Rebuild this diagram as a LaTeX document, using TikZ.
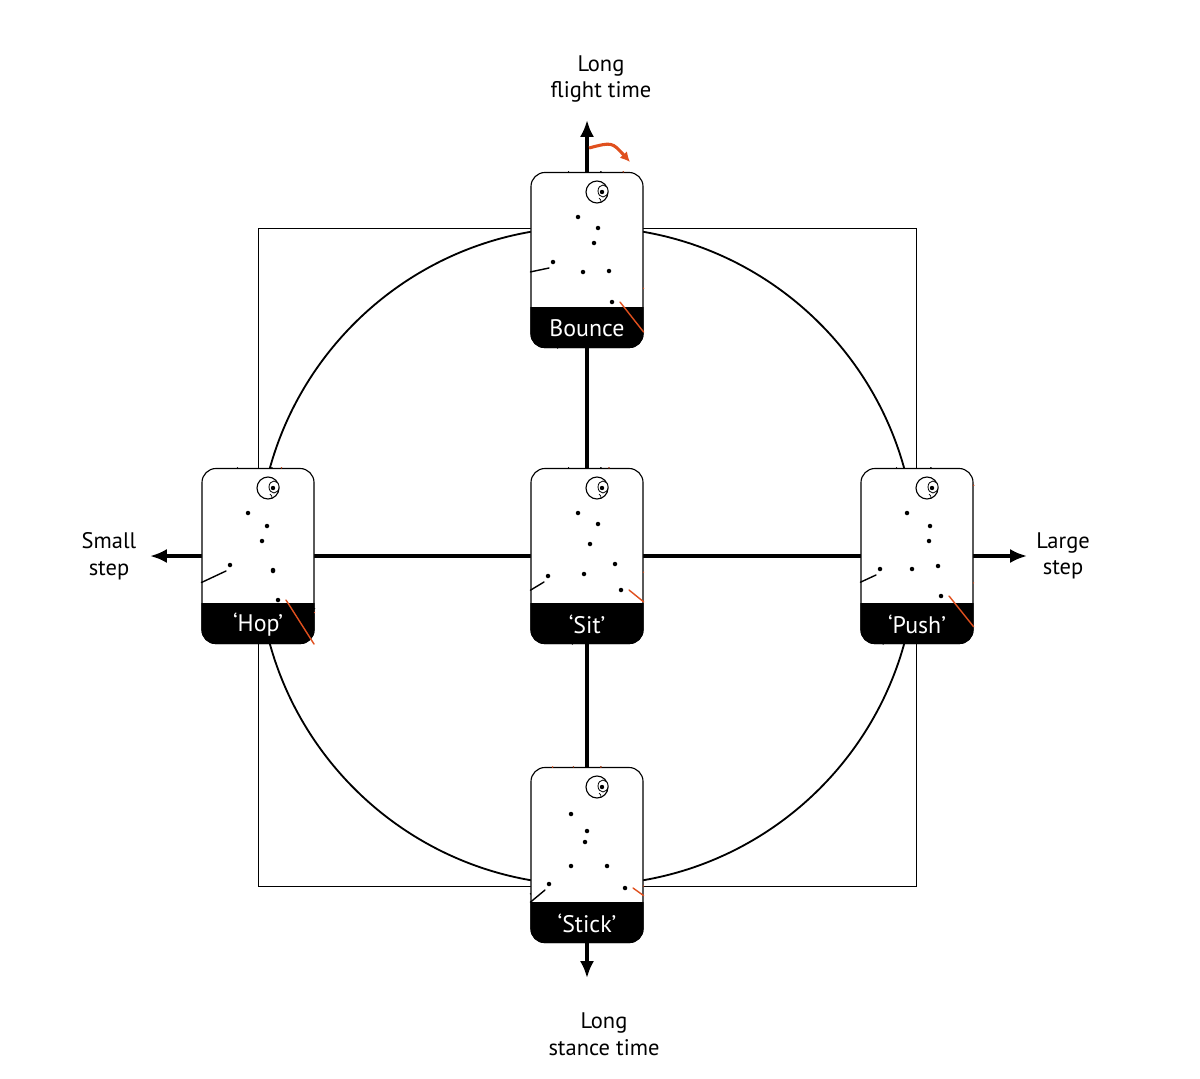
\documentclass[tikz,border=0pt]{standalone}
\usepackage{fontspec}
\setmainfont{PT Sans}
\usetikzlibrary{arrows.meta}
\definecolor{runorange}{HTML}{E0501E}
\tikzset{
  card/.style={rectangle, rounded corners=10pt, draw=black, line width=0.8pt, fill=white, minimum width=2.8cm, minimum height=4.375cm, inner sep=0pt},
  axis/.style={line width=2.6pt, -{Latex[length=12pt,width=10pt]}},
  axlabel/.style={align=center, font=\fontsize{16}{19}\selectfont},
  limb/.style={line width=1pt, line cap=round, line join=round}
}
% \runner{card}{elbow}{hand}{hip}{back knee}{back foot}{front knee}{front foot}{arm colour}
\newcommand{\runner}[9]{%
  \draw[limb, black] ([shift={#4}]#1) -- ([shift={#5}]#1) -- ([shift={#6}]#1) -- ++(-4,6);
  \draw[limb, runorange] ([shift={#4}]#1) -- ([shift={#7}]#1) -- ([shift={#8}]#1) -- ++(8,0);
  \draw[limb, black] ([shift={(9,-57)}]#1) -- ([shift={#4}]#1);
  \draw[limb, #9] ([shift={(9,-57)}]#1) -- ([shift={#2}]#1) -- ([shift={#3}]#1);
  \foreach \p in {#2,#3,#4,#5,#6,#7,#8}
    \fill ([shift={\p}]#1) circle (1.6pt);
  \draw[line width=0.8pt, fill=white] ([shift={(10,-68)}]#1) circle (11);
  \draw[line width=0.6pt, fill=white] ([shift={(16,-69)}]#1) ellipse (5 and 6);
  \fill ([shift={(15,-68)}]#1) circle (2.2);
  \draw[line width=0.5pt] ([shift={(12,-62)}]#1) arc (-60:10:4);
}
% \band{card}{text}
\newcommand{\band}[2]{%
  \fill[black] ([yshift=1.025cm]#1.south west) [rounded corners=10pt] -- (#1.south west)
    -- (#1.south east) [sharp corners] -- ([yshift=1.025cm]#1.south east) -- cycle;
  \node[text=white, font=\fontsize{17}{20}\selectfont] at ([yshift=0.5cm]#1.south) {#2};
}

\begin{document}
\begin{tikzpicture}[x=0.025cm, y=-0.025cm]
  \useasboundingbox (0,0) rectangle (1200,1078);
  % frame
  \draw[line width=0.6pt] (258,228) rectangle (916,886);
  \draw[line width=1.3pt] (587,556) circle (329);
  % axes
  \coordinate (ctr) at (587,556);
  \coordinate (up) at (587,120);
  \coordinate (down) at (587,978);
  \coordinate (left) at (150,556);
  \coordinate (right) at (1027,556);
  \draw[axis] (ctr) -- (up);
  \draw[axis] (ctr) -- (down);
  \draw[axis] (ctr) -- (left);
  \draw[axis] (ctr) -- (right);
  \node[axlabel] (fly) at (601,79) {Long\\flight time};
  \node[axlabel] (stance) at (604,1034) {Long\\stance time};
  \node[axlabel] (small) at (109,556) {Small\\step};
  \node[axlabel] (large) at (1063,556) {Large\\step};
  \draw[runorange, line width=2.2pt, -{Latex[length=7pt,width=7pt]}] (589,148) .. controls (612,142) .. (630,162);
  % cards
  \node[card] (bounce) at (587,260) {};
  \node[card] (sit) at (587,556) {};
  \node[card] (hop) at (258,556) {};
  \node[card] (push) at (917,556) {};
  \node[card] (stick) at (587,855) {};
  \band{bounce}{Bounce}
  \band{sit}{‘Sit’}
  \band{hop}{‘Hop’}
  \band{push}{‘Push’}
  \band{stick}{‘Stick’}
  \runner{bounce}{(-9,-43)}{(11,-32)}{(7,-17)}{(-4,12)}{(-34,2)}{(22,11)}{(25,42)}{black}
  \runner{sit}{(-9,-43)}{(11,-32)}{(3,-12)}{(-3,18)}{(-39,20)}{(28,8)}{(34,34)}{black}
  \runner{hop}{(-10,-43)}{(9,-30)}{(4,-15)}{(15,14)}{(-28,9)}{(15,15)}{(20,44)}{black}
  \runner{push}{(-10,-43)}{(13,-30)}{(12,-15)}{(-5,13)}{(-37,13)}{(21,10)}{(24,40)}{black}
  \runner{stick}{(-16,-41)}{(0,-24)}{(-2,-13)}{(-16,11)}{(-38,29)}{(20,11)}{(38,33)}{runorange}
\end{tikzpicture}
\end{document}
